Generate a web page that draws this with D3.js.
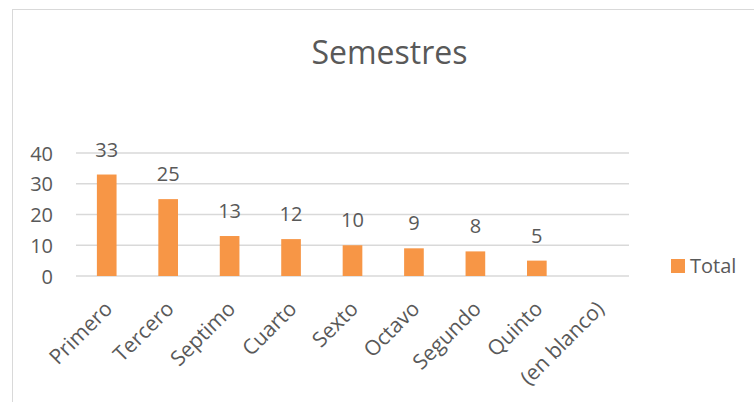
<!DOCTYPE html>
<html>
<head>
<meta charset="utf-8">
<script src="https://cdn.jsdelivr.net/npm/d3@7"></script>
<style>
  body { margin: 0; background: #fff; }
  svg { display: block; font-family: "Open Sans", sans-serif; }
</style>
</head>
<body>
<div id="wrapper"></div>
<script>
// data
const categories = ['Primero', 'Tercero', 'Septimo', 'Cuarto', 'Sexto', 'Octavo', 'Segundo', 'Quinto', '(en blanco)'];
const totals = [33, 25, 13, 12, 10, 9, 8, 5, null];
const yTicks = [0, 10, 20, 30, 40];
const seriesName = 'Total';
const chartTitle = 'Semestres';

const width = 754;
const height = 402;
const textColor = '#595959';
const barColor = '#F79646';

const dimensions = {
    left: 76,
    right: 629,
    top: 153,
    bottom: 276,
};

const svg = d3.select('#wrapper')
    .append('svg')
    .attr('width', width)
    .attr('height', height);

// chart border (runs past the window on right and bottom)
svg.append('rect')
    .attr('x', 12.5)
    .attr('y', 9.5)
    .attr('width', 800)
    .attr('height', 500)
    .attr('fill', 'none')
    .attr('stroke', '#d9d9d9')
    .attr('stroke-width', 1);

svg.append('text')
    .attr('x', 389.5)
    .attr('y', 64)
    .attr('text-anchor', 'middle')
    .attr('fill', textColor)
    .style('font-size', '32px')
    .text(chartTitle);

const x = d3.scaleBand()
    .domain(categories)
    .range([dimensions.left, dimensions.right])
    .paddingInner(0.68)
    .paddingOuter(0.34);

const y = d3.scaleLinear()
    .domain([0, 40])
    .range([dimensions.bottom, dimensions.top]);

// gridlines
svg.append('g')
    .selectAll('line')
    .data(yTicks)
    .join('line')
    .attr('x1', dimensions.left)
    .attr('x2', dimensions.right)
    .attr('y1', d => y(d))
    .attr('y2', d => y(d))
    .attr('stroke', '#d9d9d9')
    .attr('stroke-width', 1.3);

// y axis labels
const yAxis = svg.append('g')
    .attr('transform', `translate(${dimensions.left - 23},0)`)
    .call(d3.axisLeft(y).tickValues(yTicks).tickSize(0).tickPadding(0));
yAxis.select('.domain').remove();
yAxis.selectAll('text')
    .attr('fill', textColor)
    .attr('dy', '0.36em')
    .style('font-family', '"Open Sans", sans-serif')
    .style('font-size', '20px');

const rows = categories.map((c, i) => ({ cat: c, value: totals[i] }));

svg.append('g')
    .selectAll('rect')
    .data(rows.filter(d => d.value != null))
    .join('rect')
    .attr('x', d => x(d.cat))
    .attr('width', x.bandwidth())
    .attr('y', d => y(d.value))
    .attr('height', d => y(0) - y(d.value))
    .attr('fill', barColor);

// data labels
svg.append('g')
    .selectAll('text')
    .data(rows.filter(d => d.value != null))
    .join('text')
    .attr('x', d => x(d.cat) + x.bandwidth() / 2)
    .attr('y', d => y(d.value) - 18)
    .attr('text-anchor', 'middle')
    .attr('fill', textColor)
    .style('font-size', '20px')
    .text(d => d.value);

// category labels, rotated
svg.append('g')
    .selectAll('text')
    .data(categories)
    .join('text')
    .attr('text-anchor', 'end')
    .attr('transform', d => `translate(${x(d) + x.bandwidth() / 2 + 7},${dimensions.bottom + 34}) rotate(-45)`)
    .attr('fill', textColor)
    .style('font-size', '21px')
    .text(d => d);

// legend
const legend = svg.append('g')
    .attr('transform', 'translate(671,259)');
legend.append('rect')
    .attr('width', 14)
    .attr('height', 14)
    .attr('fill', barColor);
legend.append('text')
    .attr('x', 19)
    .attr('y', 14)
    .attr('fill', textColor)
    .style('font-size', '20px')
    .text(seriesName);
</script>
</body>
</html>
